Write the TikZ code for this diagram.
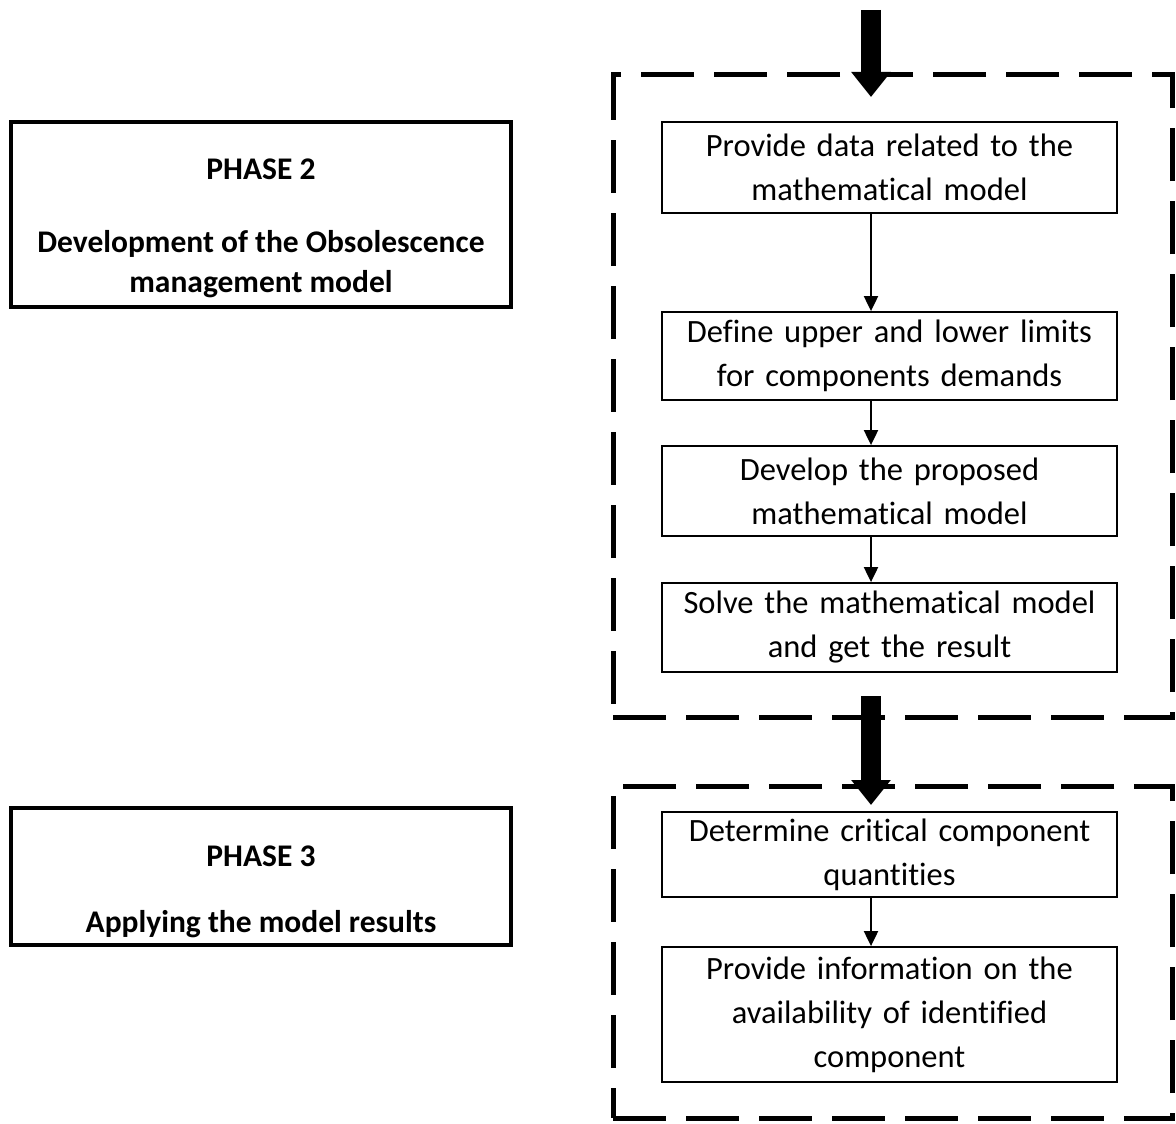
\documentclass[tikz,border=0pt]{standalone}
\usepackage{fontspec}
\setmainfont[Ligatures=CommonOff]{Carlito}
\usetikzlibrary{arrows.meta}
\begin{document}
\begin{tikzpicture}[x=1pt,y=-1pt,
  stepbox/.style={draw, line width=1.8pt, minimum width=455pt, align=center, inner sep=0pt,
    font=\fontsize{32.5}{44}\selectfont, text width=450pt},
  phasebox/.style={draw, line width=3.5pt, minimum width=500pt, inner sep=0pt},
  phasetext/.style={font=\bfseries\fontsize{31.5}{40}\selectfont, align=center, inner sep=0pt},
  frame/.style={draw, line width=5pt, dash pattern=on 53pt off 20pt},
  flow/.style={draw, line width=2pt, -{Triangle[length=15pt,width=14pt]}},
  bigflow/.style={draw, line width=20pt, -{Triangle[length=25pt,width=38pt]}}
]
\useasboundingbox (0,0) rectangle (1176,1124);

% dashed frames around the two groups of steps
\node[frame, minimum width=559pt, minimum height=642pt, inner sep=0pt] (frameA) at (892.5,396) {};
\node[frame, minimum width=559pt, minimum height=332pt, inner sep=0pt] (frameB) at (892.5,952) {};

% phase descriptions
\node[phasebox, minimum height=185pt] (phase2) at (261,214.5) {};
\node[phasetext] (p2title) at (261,169) {PHASE 2};
\node[phasetext] (p2text) at (261,264) {Development of the Obsolescence\\management model};

\node[phasebox, minimum height=137pt] (phase3) at (261,876.5) {};
\node[phasetext] (p3title) at (261,856) {PHASE 3};
\node[phasetext] (p3text) at (261,924) {Applying the model results};

% steps of phase 2
\node[stepbox, minimum height=91pt] (s1) at (889.5,167.5) {Provide data related to the\\mathematical model};
\node[stepbox, minimum height=88pt] (s2) at (889.5,356) {Define upper and lower limits\\for components demands};
\node[stepbox, minimum height=90pt] (s3) at (889.5,491) {Develop the proposed\\mathematical model};
\node[stepbox, minimum height=89pt] (s4) at (889.5,627.5) {Solve the mathematical model\\and get the result};

% steps of phase 3
\node[stepbox, minimum height=85pt] (s5) at (889.5,854.5) {Determine critical component\\quantities};
\node[stepbox, minimum height=135pt] (s6) at (889.5,1014.5) {Provide information on the\\availability of identified\\component};

% connector axis
\coordinate (ax) at (871,0);
\coordinate (inTop) at (871,10);
\coordinate (inTip) at (871,97);
\coordinate (midTop) at (871,696);
\coordinate (midTip) at (871,805);

\draw[bigflow] (inTop) -- (inTip);
\draw[bigflow] (midTop) -- (midTip);

\draw[flow] (s1.south -| ax) -- (s2.north -| ax);
\draw[flow] (s2.south -| ax) -- (s3.north -| ax);
\draw[flow] (s3.south -| ax) -- (s4.north -| ax);
\draw[flow] (s5.south -| ax) -- (s6.north -| ax);
\end{tikzpicture}
\end{document}
